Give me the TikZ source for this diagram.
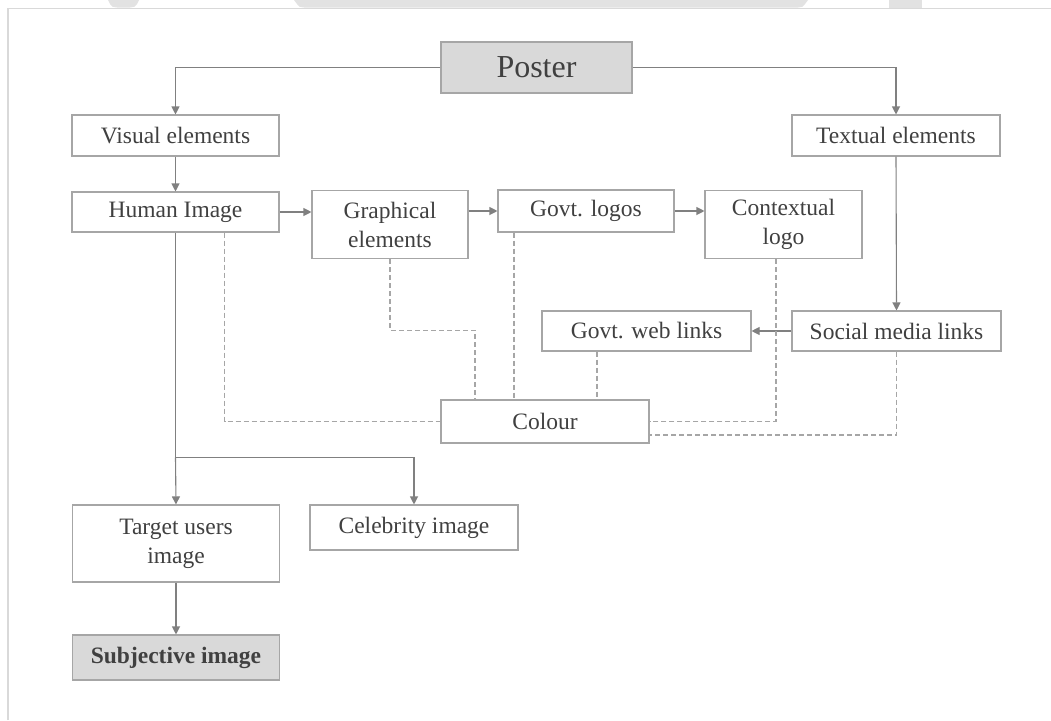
\documentclass[tikz,border=0pt]{standalone}
\usepackage{fontspec}
\setmainfont{Liberation Serif}
\usetikzlibrary{arrows.meta,calc}
\definecolor{boxline}{HTML}{A6A6A6}
\definecolor{conn}{HTML}{808080}
\definecolor{txt}{HTML}{404040}
\definecolor{shade}{HTML}{D9D9D9}
\definecolor{framecol}{HTML}{D9D9D9}
\definecolor{blob}{HTML}{E2E2E2}
\tikzset{
  box/.style={draw=boxline, line width=1.1pt, fill=white, inner sep=0pt, align=center,
    text=txt, font=\fontsize{23.5}{29}\selectfont},
  shadebox/.style={box, fill=shade},
  arr/.style={draw=conn, line width=1.1pt, -{Triangle[length=8pt,width=8pt]}},
  plain/.style={draw=conn, line width=1.1pt},
  dashline/.style={draw=boxline, line width=1.1pt, dash pattern=on 5pt off 3pt}
}
\begin{document}
\begin{tikzpicture}[x=1pt,y=-1pt]
\useasboundingbox (0,0) rectangle (1051,720);
\fill[white] (0,0) rectangle (1051,720);
% faint top shapes and frame
\fill[blob] (108,0) -- (139,0) -- (137,4) to[out=250,in=0] (130,7.5) -- (117,7.5) to[out=180,in=290] (110,4) -- cycle;
\fill[blob] (294,0) -- (808,0) -- (805,4) to[out=250,in=0] (798,7.5) -- (304,7.5) to[out=180,in=290] (297,4) -- cycle;
\fill[blob] (889,0) rectangle (922,7.5);
\draw[framecol, line width=1.6pt] (8,720) -- (8,8.5) -- (1051,8.5);

% nodes
\node[shadebox, minimum width=191pt, minimum height=51pt, font=\fontsize{32}{36}\selectfont] (poster) at (536.5,67.5) {Poster};
\node[box, minimum width=207pt, minimum height=41pt] (visual) at (175.5,135.5) {Visual elements};
\node[box, minimum width=208pt, minimum height=41pt] (textual) at (896,135.5) {Textual elements};
\node[box, minimum width=207pt, minimum height=40pt] (human) at (175.5,212) {Human Image};
\node[box, minimum width=156pt, minimum height=68pt] (graph) at (390,224.5) {Graphical\\elements};
\node[box, minimum width=176pt, minimum height=42pt] (govtlogos) at (586,211) {Govt. logos};
\node[box, minimum width=157pt, minimum height=68pt] (context) at (783.5,224.5) {Contextual\\logo};
\node[box, minimum width=209pt, minimum height=40pt] (web) at (646.5,331) {Govt. web links};
\node[box, minimum width=209pt, minimum height=40pt] (social) at (896.5,331) {Social media links};
\node[box, minimum width=208pt, minimum height=43pt] (colour) at (545,421.5) {Colour};
\node[box, minimum width=207pt, minimum height=77pt] (target) at (176,543.5) {Target users\\image};
\node[box, minimum width=208pt, minimum height=45pt] (celeb) at (414,527.5) {Celebrity image};
\node[shadebox, minimum width=207pt, minimum height=45pt, font=\fontsize{23.5}{29}\selectfont\bfseries] (subj) at (176,657.5) {Subjective image};

% solid connectors
\draw[arr] (poster.west) -| (visual.north);
\draw[arr] (poster.east) -| (textual.north);
\draw[arr] (visual.south) -- (human.north);
\draw[arr] (human.east) -- (human.east -| graph.west);
\draw[arr] (graph.east |- govtlogos.west) -- (govtlogos.west);
\draw[arr] (govtlogos.east) -- (govtlogos.east -| context.west);
\draw[arr] (textual.south) -- (social.north);
\draw[arr] (social.west) -- (web.east);
\coordinate (split) at ($(human.south)+(0,225)$);
\draw[plain] (human.south) -- (split);
\draw[arr] (split) -- (target.north);
\draw[arr] (split) -| (celeb.north);
\draw[arr] (target.south) -- (subj.north);

% dashed connectors
\coordinate (hd) at ([xshift=49pt]human.south);
\draw[dashline] (hd) |- (colour.west);
\coordinate (gd) at ([xshift=-70pt]colour.north);
\draw[dashline] (graph.south) -- ++(0,71) -| (gd);
\coordinate (ld) at ([xshift=-72pt]govtlogos.south);
\draw[dashline] (ld) -- (ld |- colour.north);
\coordinate (wd) at ([xshift=-49.5pt]web.south);
\draw[dashline] (wd) -- (wd |- colour.north);
\coordinate (cd) at ([xshift=-7.5pt]context.south);
\draw[dashline] (cd) |- (colour.east);
\coordinate (sd) at ([yshift=-13.5pt]colour.east);
\draw[dashline] (social.south) |- (sd);
\end{tikzpicture}
\end{document}
